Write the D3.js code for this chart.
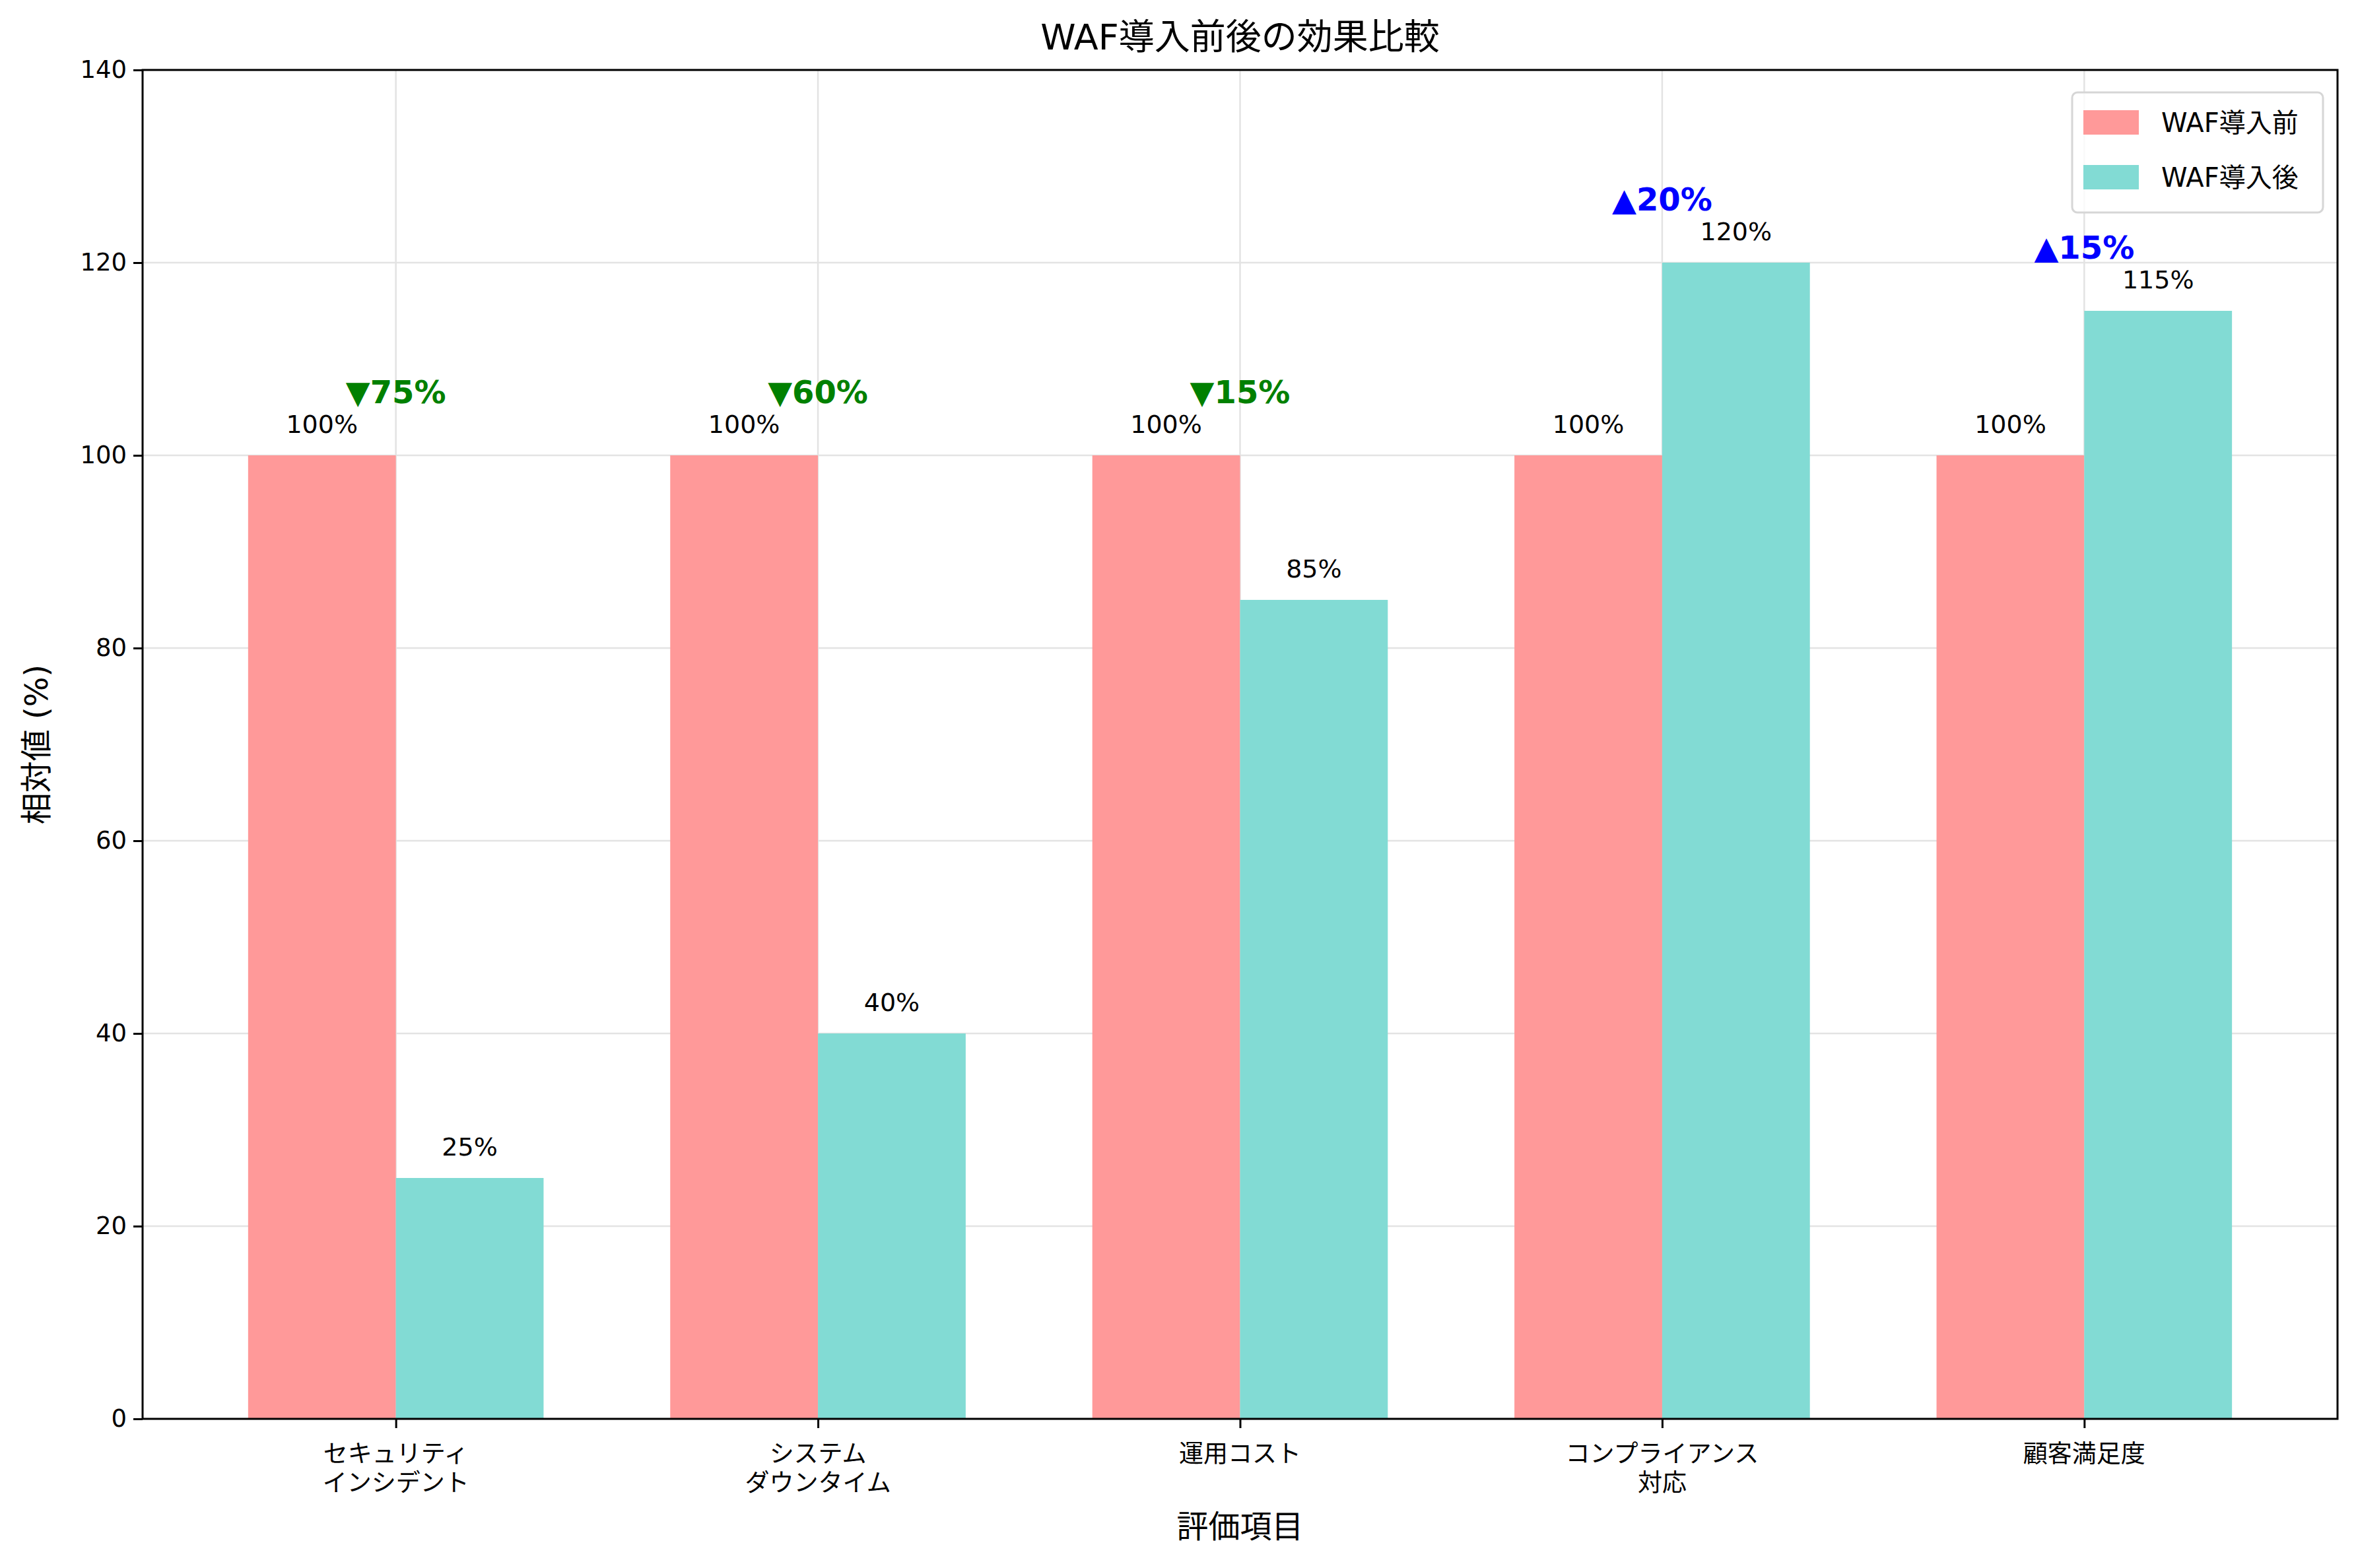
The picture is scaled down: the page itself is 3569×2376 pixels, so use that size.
<!DOCTYPE html>
<html lang="ja">
<head>
<meta charset="UTF-8" />
<title>WAF導入前後の効果比較</title>
<script src="https://d3js.org/d3.v7.min.js"></script>
<style>
  body { margin: 0; background: #fff; }
  text { font-family: "DejaVu Sans", "Noto Sans CJK JP", sans-serif; }
</style>
</head>
<body>
<svg width="3569" height="2376"></svg>
<script>
// データ
const categories = ["セキュリティ\nインシデント", "システム\nダウンタイム", "運用コスト", "コンプライアンス\n対応", "顧客満足度"];
const beforeValues = [100, 100, 100, 100, 100];
const afterValues = [25, 40, 85, 120, 115];
const seriesNames = ["WAF導入前", "WAF導入後"];
const yTicks = [0, 20, 40, 60, 80, 100, 120, 140];

const svg = d3.select("svg");
const margin = { left: 216, right: 3541, top: 106, bottom: 2150 };

const x = d3.scaleLinear().domain([-0.6, 4.6]).range([margin.left, margin.right]);
const y = d3.scaleLinear().domain([0, 140]).range([margin.bottom, margin.top]);
const barW = x(0.35) - x(0);

// グリッド
svg.append("g").selectAll("line").data(yTicks).join("line")
  .attr("x1", margin.left).attr("x2", margin.right)
  .attr("y1", d => y(d)).attr("y2", d => y(d))
  .attr("stroke", "#e3e3e3").attr("stroke-width", 2.5);
svg.append("g").selectAll("line").data(categories).join("line")
  .attr("x1", (d, i) => x(i)).attr("x2", (d, i) => x(i))
  .attr("y1", margin.top).attr("y2", margin.bottom)
  .attr("stroke", "#e3e3e3").attr("stroke-width", 2.5);

// 棒
const colors = ["#ff9999", "#82dbd4"];
[beforeValues, afterValues].forEach((vals, s) => {
  svg.append("g").selectAll("rect").data(vals).join("rect")
    .attr("x", (d, i) => s === 0 ? x(i) - barW : x(i))
    .attr("width", barW)
    .attr("y", d => y(d))
    .attr("height", d => y(0) - y(d))
    .attr("fill", colors[s]);
  svg.append("g").selectAll("text").data(vals).join("text")
    .attr("x", (d, i) => (s === 0 ? x(i) - barW / 2 : x(i) + barW / 2))
    .attr("y", d => y(d + 2.3))
    .attr("text-anchor", "middle")
    .attr("font-size", 38)
    .text(d => d + "%");
});

// 変化率
categories.forEach((c, i) => {
  const diff = afterValues[i] - beforeValues[i];
  const top = Math.max(afterValues[i], beforeValues[i]);
  svg.append("text")
    .attr("x", x(i)).attr("y", y(top + 5.4))
    .attr("text-anchor", "middle")
    .attr("font-size", 48).attr("font-weight", "bold")
    .attr("fill", diff < 0 ? "green" : "blue")
    .text((diff < 0 ? "▼" : "▲") + Math.abs(diff) + "%");
});

// 軸
const yAxis = svg.append("g").attr("transform", `translate(${margin.left},0)`)
  .call(d3.axisLeft(y).tickValues(yTicks).tickSize(14).tickPadding(10));
const xAxis = svg.append("g").attr("transform", `translate(0,${margin.bottom})`)
  .call(d3.axisBottom(x).tickValues(d3.range(categories.length)).tickSize(14).tickFormat(""));
[yAxis, xAxis].forEach(a => {
  a.select(".domain").remove();
  a.selectAll("line").attr("stroke-width", 3);
  a.selectAll("text").attr("font-size", 37).attr("font-family", "DejaVu Sans");
});

categories.forEach((c, i) => {
  const t = svg.append("text").attr("text-anchor", "middle").attr("font-size", 37)
    .attr("font-family", "Noto Sans CJK JP");
  c.split("\n").forEach((line, k) => {
    t.append("tspan").attr("x", x(i)).attr("y", margin.bottom + 66 + k * 44).text(line);
  });
});

svg.append("rect")
  .attr("x", margin.left).attr("y", margin.top)
  .attr("width", margin.right - margin.left).attr("height", margin.bottom - margin.top)
  .attr("fill", "none").attr("stroke", "#000").attr("stroke-width", 3);

// ラベル
svg.append("text").attr("x", (margin.left + margin.right) / 2).attr("y", 75)
  .attr("text-anchor", "middle").attr("font-size", 54).attr("font-family", "Noto Sans CJK JP")
  .text("WAF導入前後の効果比較");
svg.append("text").attr("x", (margin.left + margin.right) / 2).attr("y", 2330)
  .attr("text-anchor", "middle").attr("font-size", 48).attr("font-family", "Noto Sans CJK JP")
  .text("評価項目");
svg.append("text").attr("transform", `translate(72,${(margin.top + margin.bottom) / 2}) rotate(-90)`)
  .attr("text-anchor", "middle").attr("font-size", 48).attr("font-family", "Noto Sans CJK JP")
  .text("相対値 (%)");

// 凡例
const lg = svg.append("g").attr("transform", "translate(3139,140)");
lg.append("rect").attr("width", 380).attr("height", 182).attr("rx", 8)
  .attr("fill", "rgba(255,255,255,0.8)").attr("stroke", "#d6d6d6").attr("stroke-width", 3);
seriesNames.forEach((n, i) => {
  lg.append("rect").attr("x", 17).attr("y", 27 + i * 83).attr("width", 84).attr("height", 37).attr("fill", colors[i]);
  lg.append("text").attr("x", 135).attr("y", 60 + i * 83).attr("font-size", 40)
    .attr("font-family", "Noto Sans CJK JP").text(n);
});
</script>
</body>
</html>
